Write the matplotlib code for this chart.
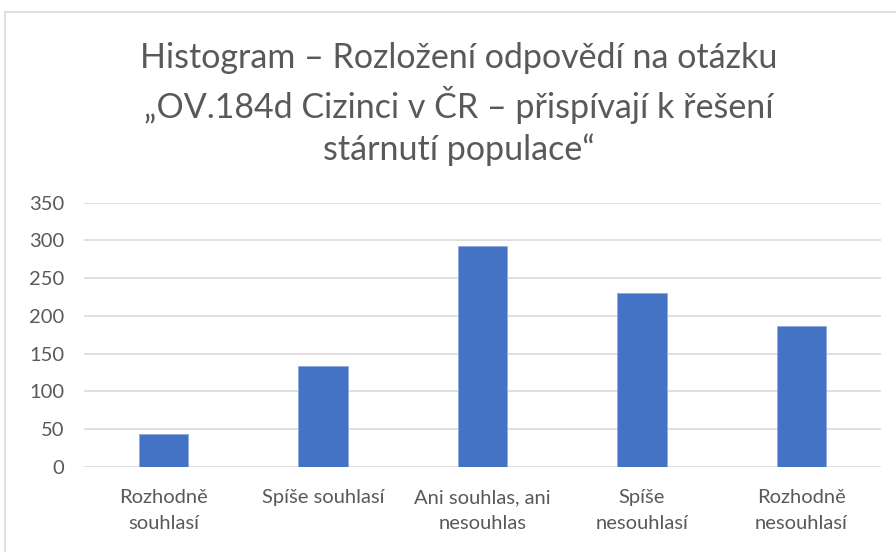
import matplotlib.pyplot as plt
from matplotlib.patches import Rectangle

categories = ['Rozhodně\nsouhlasí', 'Spíše souhlasí', 'Ani souhlas, ani\nnesouhlas',
              'Spíše\nnesouhlasí', 'Rozhodně\nnesouhlasí']
counts = [44, 133, 293, 230, 186]
yticks = [0, 50, 100, 150, 200, 250, 300, 350]

title = ('Histogram – Rozložení odpovědí na otázku\n'
         '„OV.184d Cizinci v ČR – přispívají k řešení\n'
         'stárnutí populace“')

plt.rcParams['font.family'] = ['Lato', 'DejaVu Sans']

fig = plt.figure(figsize=(8.96, 5.52), dpi=100)
ax = fig.add_axes([84 / 896, 1 - 466.7 / 552, 797 / 896, 264 / 552])

ax.bar(range(len(counts)), counts, width=0.31, color='#4472C4',
       edgecolor='#8FAADC', linewidth=0.6, zorder=3)
ax.set_xlim(-0.5, len(counts) - 0.5)
ax.set_ylim(0, 350)
ax.set_yticks(yticks)
ax.set_xticks(range(len(categories)))
ax.set_xticklabels(categories, fontsize=14.5, color='#595959', linespacing=1.65)
ax.tick_params(axis='y', labelsize=14.5, labelcolor='#595959', length=0, pad=14)
ax.tick_params(axis='x', length=0, pad=16)
ax.grid(axis='y', color='#D9D9D9', linewidth=1.2, zorder=0)
for s in ax.spines.values():
    s.set_visible(False)

fig.text(459 / 896, 1 - 104 / 552, title, ha='center', va='center',
         fontsize=24.5, color='#595959', linespacing=1.35)

fig.patches.append(Rectangle((5 / 896, -0.01), 1.0, 1 - 12 / 552 + 0.01,
                             transform=fig.transFigure, fill=False,
                             edgecolor='#D9D9D9', linewidth=1.2))

fig.savefig('out.png', dpi=100)
